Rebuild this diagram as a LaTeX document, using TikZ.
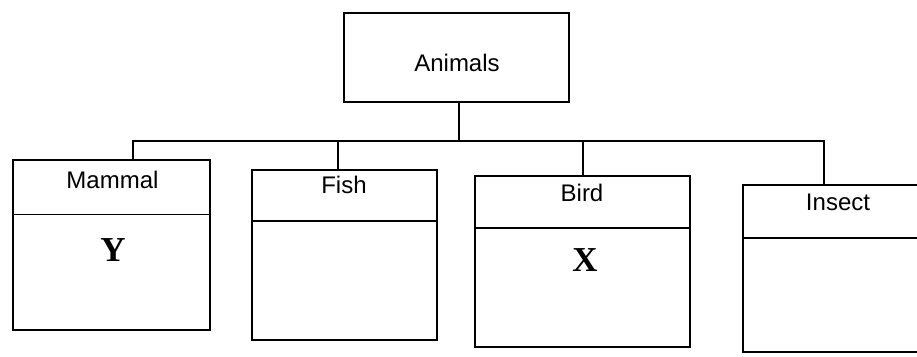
\documentclass[tikz,border=0pt]{standalone}
\usepackage{fontspec}
\setmainfont{Liberation Sans}
\newfontfamily\letterfont{Liberation Serif}
\tikzset{
  every picture/.style={x=1pt,y=-1pt},
  frame/.style={draw=black,line width=1.3pt,rectangle,inner sep=0pt,minimum width=#1},
  lbl/.style={inner sep=0pt,font=\fontsize{24}{24}\selectfont},
  big/.style={inner sep=0pt,font=\letterfont\bfseries\fontsize{35}{35}\selectfont},
  link/.style={draw=black,line width=1.3pt},
  divider/.style={draw=black,line width=1.3pt}
}
\begin{document}
\begin{tikzpicture}
\useasboundingbox (0,0) rectangle (917,356);
\begin{scope}
\clip (0,0) rectangle (917,356);
% root
\node[frame=225pt,minimum height=89pt] (animals) at (456.5,57.5) {};
\node[lbl] (animalsT) at (457,63) {Animals};
% category boxes
\node[frame=197pt,minimum height=170pt] (mammal) at (111.5,245) {};
\node[frame=185pt,minimum height=170pt] (fish) at (344.5,255) {};
\node[frame=215pt,minimum height=171pt] (bird) at (582.5,261.5) {};
\node[frame=190pt,minimum height=167pt] (insect) at (838,268.5) {};
% dividers
\draw[divider] (mammal.west |- 0,214.5) -- (mammal.east |- 0,214.5);
\draw[divider] (fish.west |- 0,221) -- (fish.east |- 0,221);
\draw[divider] (bird.west |- 0,228) -- (bird.east |- 0,228);
\draw[divider] (insect.west |- 0,238) -- (insect.east |- 0,238);
% headings
\node[lbl] (mammalT) at (112.5,180) {Mammal};
\node[lbl] (fishT) at (344,185) {Fish};
\node[lbl] (birdT) at (582,192.5) {Bird};
\node[lbl] (insectT) at (838,202) {Insect};
% letters
\node[big] (yT) at (113,250) {Y};
\node[big] (xT) at (585,260.5) {X};
% connectors
\coordinate (bar) at (459,141);
\coordinate (mtop) at ([xshift=21.5pt]mammal.north);
\coordinate (ftop) at ([xshift=-6.5pt]fish.north);
\coordinate (btop) at ([xshift=0.5pt]bird.north);
\coordinate (itop) at ([xshift=-14pt]insect.north);
\draw[link] ([xshift=2.5pt]animals.south) -- ([xshift=2.5pt]animals.south |- bar);
\draw[link] (mtop) -- (mtop |- bar) -- (itop |- bar) -- (itop);
\draw[link] (ftop) -- (ftop |- bar);
\draw[link] (btop) -- (btop |- bar);
\end{scope}
\end{tikzpicture}
\end{document}
